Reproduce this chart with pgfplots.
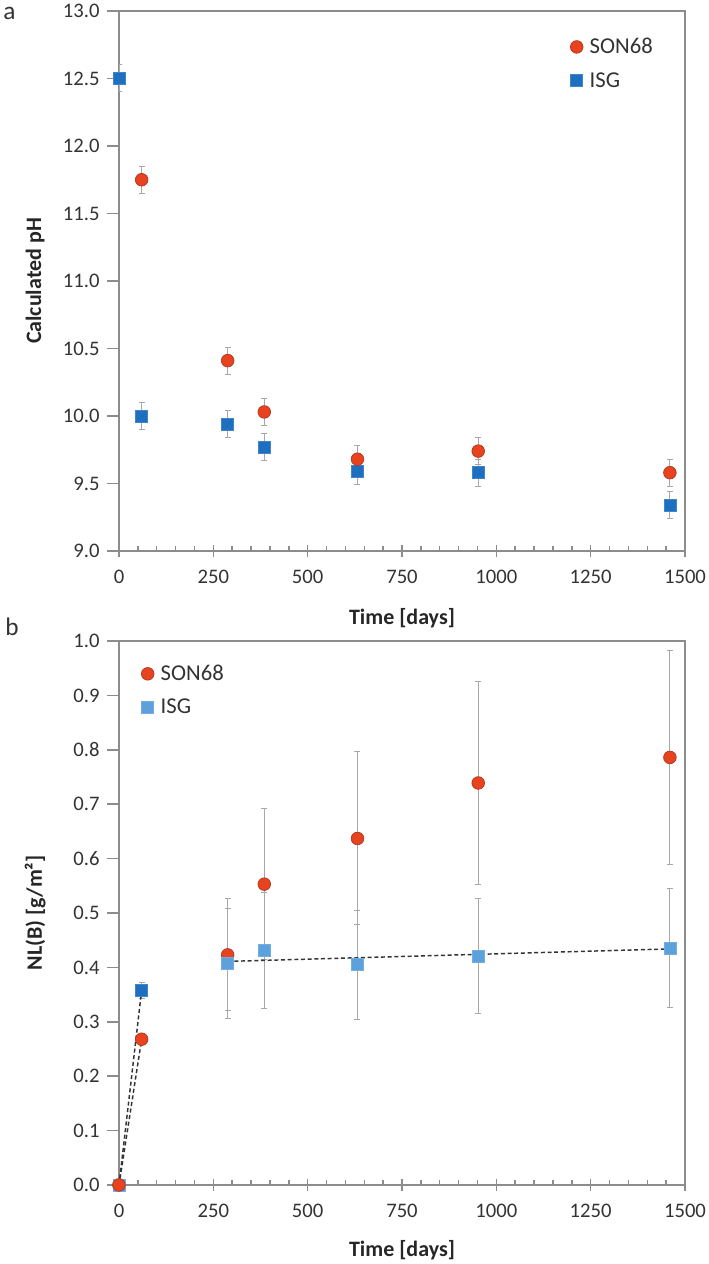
\documentclass[border=0pt]{standalone}
\usepackage{pgfplots}
\pgfplotsset{compat=1.18}
\usepackage{fontspec}
\setmainfont{Carlito}
\definecolor{sonred}{HTML}{E8421E}
\definecolor{sonedge}{HTML}{A63A22}
\definecolor{isgdark}{HTML}{1F6FC0}
\definecolor{isglight}{HTML}{5CA0DC}
\definecolor{axgray}{HTML}{8C8C8C}
\definecolor{errgray}{HTML}{A8A8A8}
\definecolor{txt}{HTML}{333333}

\pgfplotstableread{
x y e
60 11.75 0.1
288 10.41 0.1
385 10.03 0.1
632 9.68 0.1
952 9.74 0.1
1460 9.58 0.1
}\topson
\pgfplotstableread{
x y e
0 12.5 0.1
60 10.0 0.1
288 9.94 0.1
385 9.77 0.1
632 9.59 0.1
952 9.58 0.1
1460 9.34 0.1
}\topisg
\pgfplotstableread{
x y e
0 0 0
60 0.268 0.008
288 0.423 0.103
385 0.553 0.139
632 0.637 0.159
952 0.739 0.186
1460 0.786 0.197
}\botson
\pgfplotstableread{
x y e
0 0 0
288 0.407 0.101
385 0.431 0.106
632 0.405 0.100
952 0.421 0.105
1460 0.436 0.109
}\botisg
\pgfplotstableread{
x y e
60 0.358 0.015
}\botisgdark

\pgfplotsset{
  common/.style={
    scale only axis, width=424.5pt,
    xmin=0, xmax=1500, xtick={0,250,...,1500}, minor x tick num=4,
    axis line style={axgray, line width=1.1pt},
    tick style={axgray, line width=1.1pt},
    tick align=outside, major tick length=9pt, minor tick length=3.75pt,
    xtick pos=bottom, ytick pos=left,
    major x tick style={yshift=4.5pt},
    minor x tick style={yshift=3.75pt},
    tick label style={font=\fontsize{15.5}{18}\selectfont, text=txt},
    /pgf/number format/assume math mode=true,
    yticklabel style={xshift=-2pt, /pgf/number format/.cd, fixed, fixed zerofill, precision=1},
    xticklabel style={yshift=-1.5pt, /pgf/number format/.cd, fixed, precision=0, 1000 sep={}},
    label style={font=\fontsize{16.5}{19}\selectfont\bfseries, text=black!85},
    legend style={draw=none, fill=none, font=\fontsize{17}{20}\selectfont, text=txt, row sep=8.5pt,
      /tikz/every odd column/.append style={column sep=3pt}},
    legend cell align=left,
    legend image code/.code={\draw[mark repeat=2,mark phase=2,##1] plot coordinates {(0cm,0cm)(0.15cm,0cm)(0.3cm,0cm)};},
  },
  ebar/.style={error bars/.cd, y dir=both, y explicit,
    error bar style={errgray, line width=0.75pt},
    error mark options={rotate=90, errgray, mark size=2.25pt, line width=0.75pt}, /pgfplots/.cd},
  sonmark/.style={only marks, mark=*, mark size=4.75pt, mark options={fill=sonred, draw=sonedge, line width=0.5pt}},
  isgmark/.style={only marks, mark=square*, mark size=4.5pt, mark options={fill=#1, draw=#1!85!white, line width=0.4pt}},
}

\begin{document}
\begin{tikzpicture}
\path[use as bounding box] (0,0) rectangle (531.75pt,948pt);

% panel a
\begin{axis}[common,
  at={(89.25pt,534.75pt)}, anchor=south west, height=405pt,
  ymin=9, ymax=13, ytick={9,9.5,10,10.5,11,11.5,12,12.5,13},
  xlabel={Time [days]}, ylabel={Calculated pH},
  xlabel style={at={(axis description cs:0.5,-0.124)}, anchor=center},
  ylabel style={at={(axis description cs:-0.148,0.5)}, anchor=center},
  legend style={at={(axis description cs:0.79,0.96)}, anchor=north west},
  reverse legend,
]
\addplot[isgmark=isgdark, ebar] table[x=x, y=y, y error=e] {\topisg};
\addlegendentry{ISG}
\addplot[sonmark, ebar] table[x=x, y=y, y error=e] {\topson};
\addlegendentry{SON68}
\end{axis}

% panel b
\begin{axis}[common,
  at={(89.25pt,59.25pt)}, anchor=south west, height=408pt,
  ymin=0, ymax=1, ytick={0,0.1,0.2,0.3,0.4,0.5,0.6,0.7,0.8,0.9,1.0},
  xlabel={Time [days]}, ylabel={NL(B) [g/m²]},
  xlabel style={at={(axis description cs:0.5,-0.1195)}, anchor=center},
  ylabel style={at={(axis description cs:-0.148,0.5)}, anchor=center},
  legend style={at={(axis description cs:0.032,0.966)}, anchor=north west},
]
\addplot[sonmark, ebar] table[x=x, y=y, y error=e] {\botson};
\addlegendentry{SON68}
\addplot[isgmark=isglight, ebar] table[x=x, y=y, y error=e] {\botisg};
\addlegendentry{ISG}
\addplot[isgmark=isgdark, ebar, forget plot] table[x=x, y=y, y error=e] {\botisgdark};
\addplot[sonmark, forget plot] coordinates {(0,0)};
\addplot[black!80, densely dashed, line width=1.1pt, forget plot] coordinates {(0,0) (60,0.268)};
\addplot[black!80, densely dashed, line width=1.1pt, forget plot] coordinates {(0,0) (60,0.358)};
\addplot[black!80, densely dashed, line width=1.1pt, forget plot] coordinates {(288,0.411) (1460,0.434)};
\end{axis}

\node[font=\fontsize{19}{22}\selectfont, text=txt] at (7pt,938pt) {a};
\node[font=\fontsize{19}{22}\selectfont, text=txt] at (9pt,478pt) {b};
\end{tikzpicture}
\end{document}
